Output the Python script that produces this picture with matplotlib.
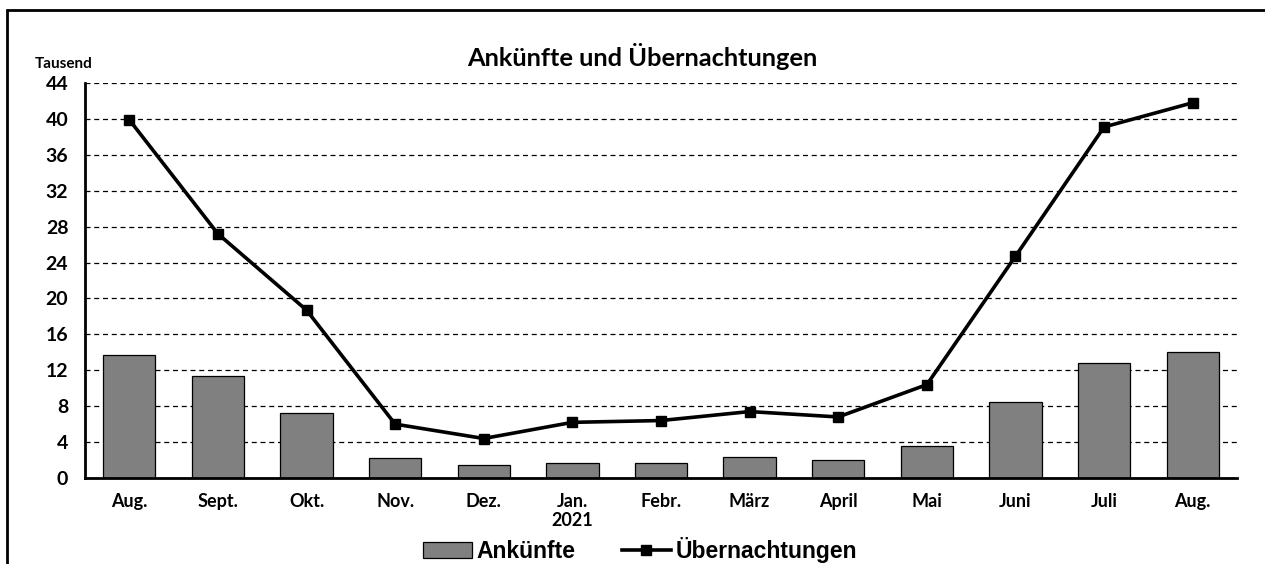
import matplotlib as mpl; mpl.use("Agg")
import matplotlib.pyplot as plt
from matplotlib.lines import Line2D
from matplotlib.patches import Patch

# data (Tausend)
months = ["Aug.","Sept.","Okt.","Nov.","Dez.","Jan.\n2021","Febr.","März","April","Mai","Juni","Juli","Aug."]
ankuenfte = [13.7, 11.4, 7.2, 2.2, 1.4, 1.7, 1.7, 2.3, 2.0, 3.6, 8.5, 12.8, 14.0]
uebernachtungen = [39.9, 27.2, 18.7, 6.0, 4.4, 6.2, 6.4, 7.4, 6.8, 10.4, 24.7, 39.1, 41.8]
yticks = list(range(0, 45, 4))

mpl.rcParams.update({"font.family": ["Lato", "DejaVu Sans"], "font.weight": "bold"})

W, H = 1265, 564
fig = plt.figure(figsize=(W/100, H/100), dpi=100)
ax = fig.add_axes([85/W, 1-478/H, (1237-85)/W, (478-83)/H])

x = range(len(months))
ax.bar(x, ankuenfte, width=0.59, color="#808080", edgecolor="black", lw=0.9, zorder=3)
ax.plot(x, uebernachtungen, color="black", lw=2.6, marker="s", ms=6.5, zorder=4)

ax.set_xlim(-0.5, len(months)-0.5)
ax.set_ylim(0, 44)
ax.set_yticks(yticks)
ax.set_yticklabels([str(v) for v in yticks], fontsize=14, fontweight="bold")
ax.set_xticks(list(x))
ax.set_xticklabels(months, fontsize=13, fontweight="bold", linespacing=1.15)
ax.tick_params(axis="y", length=0, pad=12)
ax.tick_params(axis="x", length=0, pad=11)
ax.yaxis.grid(True, ls=(0, (4, 3)), color="black", lw=0.9)
ax.set_axisbelow(True)
for s in ("top", "right"):
    ax.spines[s].set_visible(False)
ax.spines["left"].set_linewidth(2)
ax.spines["bottom"].set_linewidth(2)
ax.spines["bottom"].set_zorder(5)

fig.text(642/W, 1-57/H, "Ankünfte und Übernachtungen", ha="center", va="center",
         fontsize=18.3, fontweight="bold")
fig.text(35/W, 1-64/H, "Tausend", ha="left", va="center", fontsize=11, fontweight="bold")

# frame around the chart (right/bottom fall outside the picture)
fig.add_artist(plt.Rectangle((7/W, -0.1), 1.2, 1-10/H+0.1, transform=fig.transFigure,
                             fill=False, ec="black", lw=2))

handles = [Patch(facecolor="#808080", edgecolor="black", lw=0.9, label="Ankünfte"),
           Line2D([], [], color="black", lw=2.6, marker="s", ms=6.5, label="Übernachtungen")]
fig.legend(handles=handles, loc="center", bbox_to_anchor=(640/W, 1-550/H), ncol=2, frameon=False,
           prop={"family": "Liberation Sans", "weight": "bold", "size": 16.5},
           handlelength=2.15, handletextpad=0.2, columnspacing=2.0, handleheight=0.65)

fig.savefig("out.png", dpi=100)
